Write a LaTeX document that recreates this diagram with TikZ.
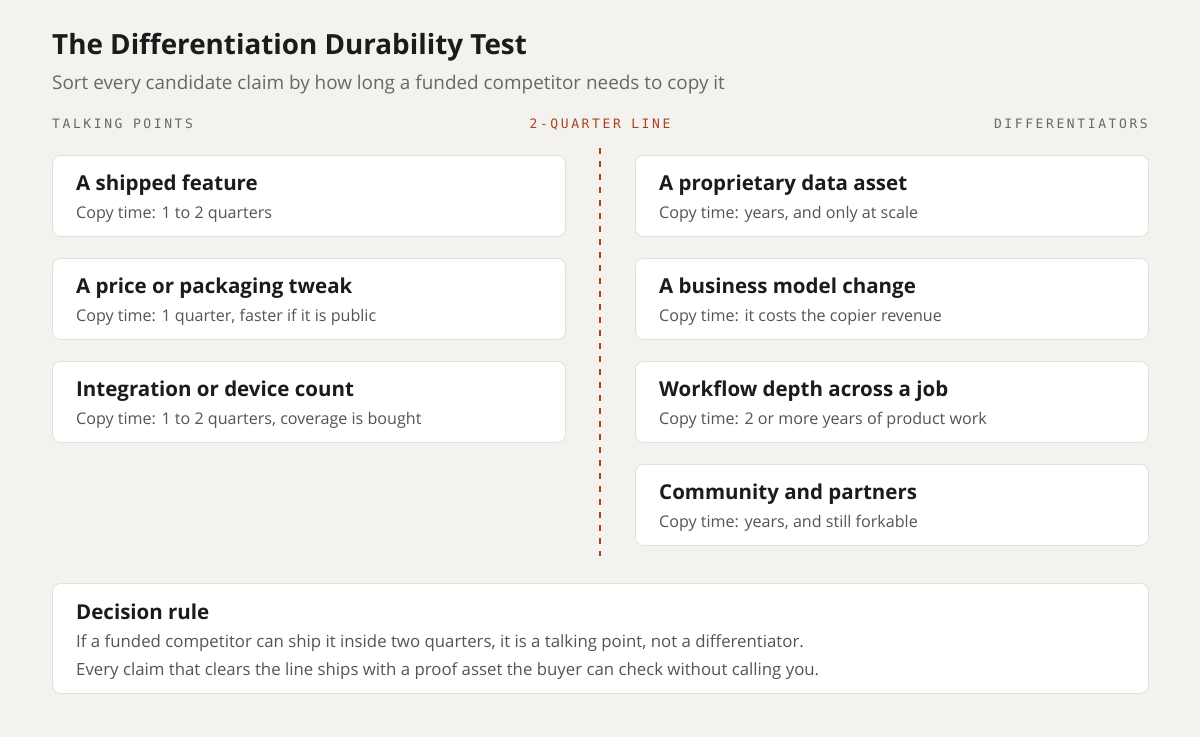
\documentclass[tikz,border=0pt]{standalone}
\usepackage{fontspec}
\setmainfont{Open Sans}
\setmonofont{DejaVu Sans Mono}
\usetikzlibrary{positioning}

\definecolor{pagebg}{HTML}{F4F2EE}
\definecolor{cardline}{HTML}{E3E0D9}
\definecolor{inkdark}{HTML}{1B1B1B}
\definecolor{inkgray}{HTML}{6A6864}
\definecolor{subgray}{HTML}{555452}
\definecolor{rust}{HTML}{A8431E}

\tikzset{
  card/.style={draw=cardline, fill=white, rounded corners=8pt, line width=0.8pt,
    minimum height=81pt, minimum width=513pt, anchor=north west, inner sep=0pt},
  cardtitle/.style={anchor=base west, inner sep=0pt, text=inkdark,
    font=\fontsize{20.5}{24}\selectfont\bfseries},
  cardsub/.style={anchor=base west, inner sep=0pt, text=subgray,
    font=\fontsize{16.1}{19}\selectfont},
  rulesub/.style={anchor=base west, inner sep=0pt, text=subgray,
    font=\fontsize{16.8}{20}\selectfont},
  colhead/.style={inner sep=0pt, text=inkgray,
    font=\fontsize{13}{15}\ttfamily\addfontfeatures{LetterSpace=20}}
}

\begin{document}
\begin{tikzpicture}[x=1pt,y=-1pt]
\fill[pagebg] (0,0) rectangle (1200,737);
\useasboundingbox (0,0) rectangle (1200,737);

% heading
\node (title) at (52,54) [anchor=base west, inner sep=0pt, text=inkdark,
  font=\fontsize{27.8}{32}\selectfont\bfseries] {The Differentiation Durability Test};
\node (subtitle) at (52,89) [anchor=base west, inner sep=0pt, text=inkgray,
  font=\fontsize{18.9}{22}\selectfont]
  {Sort every candidate claim by how long a funded competitor needs to copy it};

% column heads
\node (talkhead) at (52,128) [colhead, anchor=base west] {TALKING POINTS};
\node (linehead) at (600,128) [colhead, anchor=base, text=rust] {2-QUARTER LINE};
\node (diffhead) at (1148,128) [colhead, anchor=base east] {DIFFERENTIATORS};

% the line
\coordinate (linetop) at (600,148);
\coordinate (linebot) at (600,556);
\draw [rust, line width=1.8pt, dash pattern=on 6pt off 7pt] (linetop) -- (linebot);

% talking points
\node (feature) at (52,155) [card] {};
\node at (feature.north west) [cardtitle, xshift=24pt, yshift=-35pt] {A shipped feature};
\node at (feature.north west) [cardsub, xshift=24pt, yshift=-63pt] {Copy time: 1 to 2 quarters};

\node (price) at (52,258) [card] {};
\node at (price.north west) [cardtitle, xshift=24pt, yshift=-35pt] {A price or packaging tweak};
\node at (price.north west) [cardsub, xshift=24pt, yshift=-63pt] {Copy time: 1 quarter, faster if it is public};

\node (integ) at (52,361) [card] {};
\node at (integ.north west) [cardtitle, xshift=24pt, yshift=-35pt] {Integration or device count};
\node at (integ.north west) [cardsub, xshift=24pt, yshift=-63pt] {Copy time: 1 to 2 quarters, coverage is bought};

% differentiators
\node (data) at (635,155) [card] {};
\node at (data.north west) [cardtitle, xshift=24pt, yshift=-35pt] {A proprietary data asset};
\node at (data.north west) [cardsub, xshift=24pt, yshift=-63pt] {Copy time: years, and only at scale};

\node (model) at (635,258) [card] {};
\node at (model.north west) [cardtitle, xshift=24pt, yshift=-35pt] {A business model change};
\node at (model.north west) [cardsub, xshift=24pt, yshift=-63pt] {Copy time: it costs the copier revenue};

\node (depth) at (635,361) [card] {};
\node at (depth.north west) [cardtitle, xshift=24pt, yshift=-35pt] {Workflow depth across a job};
\node at (depth.north west) [cardsub, xshift=24pt, yshift=-63pt] {Copy time: 2 or more years of product work};

\node (commun) at (635,464) [card] {};
\node at (commun.north west) [cardtitle, xshift=24pt, yshift=-35pt] {Community and partners};
\node at (commun.north west) [cardsub, xshift=24pt, yshift=-63pt] {Copy time: years, and still forkable};

% decision rule
\node (rule) at (52,583) [card, minimum width=1096pt, minimum height=110pt] {};
\node at (rule.north west) [cardtitle, xshift=24pt, yshift=-36pt] {Decision rule};
\node at (rule.north west) [rulesub, xshift=24pt, yshift=-64pt]
  {If a funded competitor can ship it inside two quarters, it is a talking point, not a differentiator.};
\node at (rule.north west) [rulesub, xshift=24pt, yshift=-92pt]
  {Every claim that clears the line ships with a proof asset the buyer can check without calling you.};
\end{tikzpicture}
\end{document}
